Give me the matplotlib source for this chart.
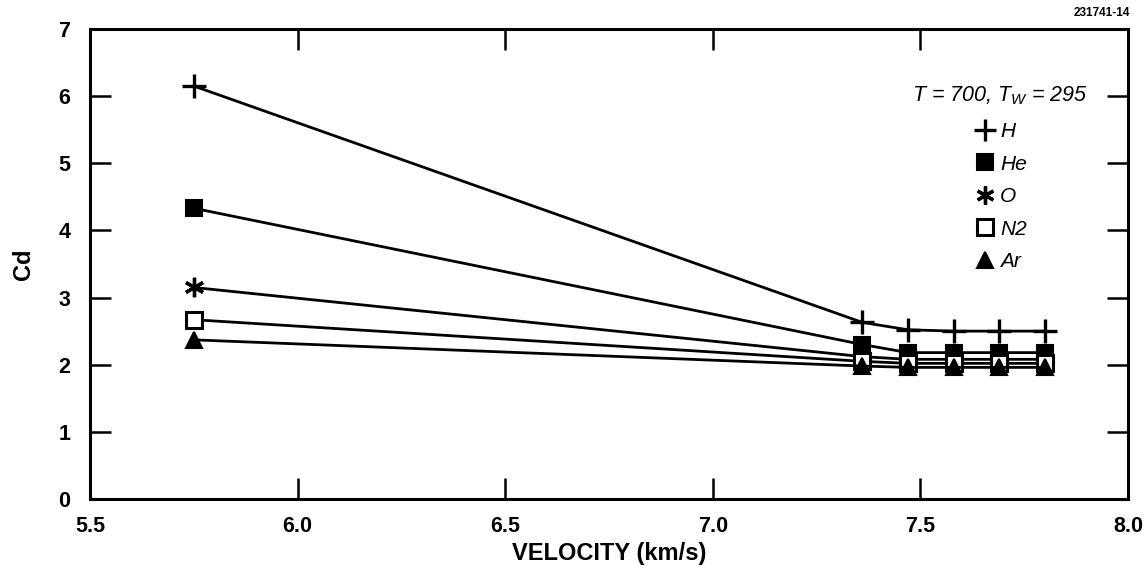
import matplotlib
matplotlib.use("Agg")
import matplotlib.pyplot as plt
from matplotlib.lines import Line2D

plt.rcParams['font.family'] = ['Liberation Sans', 'DejaVu Sans']
plt.rcParams['mathtext.fontset'] = 'custom'
plt.rcParams['mathtext.it'] = 'Liberation Sans:italic'
plt.rcParams['mathtext.rm'] = 'Liberation Sans'

# скорость (km/s)
velocity = [5.75, 7.36, 7.47, 7.58, 7.69, 7.80]

# коэффициент сопротивления по газам
cd_h = [6.15, 2.63, 2.52, 2.50, 2.50, 2.50]
cd_he = [4.33, 2.30, 2.18, 2.18, 2.18, 2.18]
cd_o = [3.15, 2.12, 2.08, 2.08, 2.08, 2.08]
cd_n2 = [2.67, 2.05, 2.02, 2.02, 2.02, 2.02]
cd_ar = [2.37, 1.98, 1.96, 1.96, 1.96, 1.96]

gases = ["H", "He", "O", "N2", "Ar"]
series = [cd_h, cd_he, cd_o, cd_n2, cd_ar]
markers = [
    dict(marker='+', ms=17, mew=2.4, mfc='black'),
    dict(marker='s', ms=12, mew=1.5, mfc='black'),
    dict(marker=(6, 2, 0), ms=14, mew=2.4, mfc='black'),
    dict(marker='s', ms=12, mew=2.2, mfc='white'),
    dict(marker='^', ms=12, mew=1.5, mfc='black'),
]

fig = plt.figure(figsize=(11.47, 5.75), dpi=100)
ax = fig.add_axes([0.0785, 0.1322, 0.905, 0.8174])

for vals, mk in zip(series, markers):
    ax.plot(velocity, vals, color='black', linewidth=2.0, mec='black', **mk)

ax.set_xlim(5.5, 8.0)
ax.set_ylim(0, 7)
ax.set_xticks([5.5, 6.0, 6.5, 7.0, 7.5, 8.0])
ax.set_xticklabels(["5.5", "6.0", "6.5", "7.0", "7.5", "8.0"])
ax.set_yticks(range(0, 8))

for s in ax.spines.values():
    s.set_linewidth(2.2)
ax.tick_params(direction='in', length=15, width=1.8, top=True, right=True,
               labelsize=15.5)
ax.tick_params(axis='x', pad=12)
ax.tick_params(axis='y', pad=14)
for lab in ax.get_xticklabels() + ax.get_yticklabels():
    lab.set_fontweight('bold')

ax.set_xlabel("VELOCITY (km/s)", fontsize=17, fontweight='bold', labelpad=4)
ax.set_ylabel("Cd", fontsize=17, fontweight='bold', labelpad=17)

# подпись условий над легендой
ax.text(0.961, 0.858, "$T$ = 700, $T_W$ = 295", transform=ax.transAxes,
        fontsize=15.5, fontstyle='italic', ha='right', va='center')

handles = []
for g, mk in zip(gases, markers):
    kw = dict(mk)
    kw['ms'] = kw['ms'] - 1
    handles.append(Line2D([], [], linestyle='none', color='black', mec='black', **kw))
ax.legend(handles, gases, loc='upper left', bbox_to_anchor=(0.848, 0.811),
          frameon=False, prop={'size': 15, 'style': 'italic'},
          handletextpad=0.22, labelspacing=0.65, handlelength=1.0,
          borderpad=0.2, borderaxespad=0)

fig.text(0.985, 0.977, "231741-14", fontsize=8.5, fontweight='bold',
         ha='right', va='center')

fig.savefig("out.png", dpi=100)
